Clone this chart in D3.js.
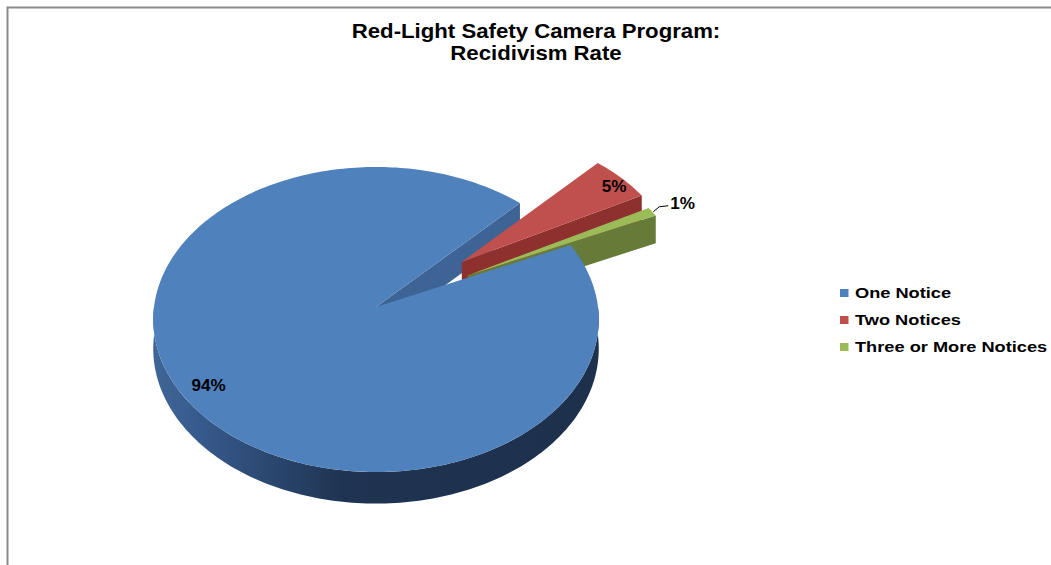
<!DOCTYPE html>
<html><head><meta charset="utf-8">
<script src="https://cdn.jsdelivr.net/npm/d3@7"></script>
<style>body{margin:0;background:#fff}svg{display:block}</style>
</head><body><svg id="c" width="1051" height="565"></svg>
<script>
const titleLines = ["Red-Light Safety Camera Program:", "Recidivism Rate"];
const categories = ["One Notice", "Two Notices", "Three or More Notices"];
const values = [94, 5, 1];
const explode = [0, 0.5, 0.47];
const topColors = ["#4F81BD", "#C0504D", "#9BBB59"];
const sideColors = ["#3D6494", "#8E302E", "#657B37"];

const svg = d3.select("#c");
const FONT = "Liberation Sans, Arial, sans-serif";

// frame
svg.append("path").attr("d", "M7.5,565 V7.5 H1051").attr("fill", "none")
  .attr("stroke", "#8a8a8a").attr("stroke-width", 2);

// title
svg.selectAll("text.title").data(titleLines).join("text")
  .attr("class", "title")
  .attr("transform", (d, i) => `translate(536,${38 + i * 22}) scale(1.11,1)`)
  .attr("text-anchor", "middle")
  .attr("font-family", FONT).attr("font-weight", "bold").attr("font-size", 20)
  .attr("fill", "#000").text(d => d);

// 3D projection
const cx = 376, cy = 307, R = 222, A = 151.5, k = 0.082, T = 29;
function proj(U, V, h) {
  const w = 1 - k * V;
  return [cx + R * U / w, cy + (A * V + T * h) / w];
}
const startA = 65 * Math.PI / 180;
const pie = d3.pie().sort(null).startAngle(startA).endAngle(startA + 2 * Math.PI);
const arcs = pie(values).map((a, i) => {
  const mid = (a.startAngle + a.endAngle) / 2;
  return Object.assign(a, {
    i, mid,
    ox: explode[i] * Math.sin(mid),
    oy: -explode[i] * Math.cos(mid)
  });
});
const line = d3.line();
const rimPts = (a, t0, t1, h) => {
  const n = Math.max(2, Math.ceil(Math.abs(t1 - t0) / 0.02));
  return d3.range(n + 1).map(j => {
    const t = t0 + (t1 - t0) * j / n;
    return proj(a.ox + Math.sin(t), a.oy - Math.cos(t), h);
  });
};
const topPath = a => line([proj(a.ox, a.oy, 0), ...rimPts(a, a.startAngle, a.endAngle, 0)]) + "Z";
const radialPath = (a, t) => line([
  proj(a.ox, a.oy, 0), proj(a.ox + Math.sin(t), a.oy - Math.cos(t), 0),
  proj(a.ox + Math.sin(t), a.oy - Math.cos(t), 1), proj(a.ox, a.oy, 1)]) + "Z";

const defs = svg.append("defs");
const g0 = defs.append("linearGradient").attr("id", "blueSide")
  .attr("gradientUnits", "userSpaceOnUse").attr("x1", 154).attr("x2", 598).attr("y1", 0).attr("y2", 0);
[[0, "#3F6696"], [0.12, "#35588A"], [0.42, "#1F3452"], [1, "#1D304C"]]
  .forEach(s => g0.append("stop").attr("offset", s[0]).attr("stop-color", s[1]));

const G = svg.append("g");
const blue = arcs[0], red = arcs[1], green = arcs[2];

// blue back radial face (end edge faces viewer)
G.append("path").attr("d", radialPath(blue, blue.endAngle)).attr("fill", "#3D6494");
// blue front curved side
const s0 = Math.PI / 2, s1 = 3 * Math.PI / 2;
G.append("path").attr("d",
  line([...rimPts(blue, s0, s1, 0), ...rimPts(blue, s1, s0, 1)]) + "Z")
  .attr("fill", "url(#blueSide)");

// red slice
G.append("path").attr("d", radialPath(red, red.endAngle)).attr("fill", sideColors[1]);
G.append("path").attr("d", topPath(red)).attr("fill", topColors[1]);
// green slice
G.append("path").attr("d", radialPath(green, green.endAngle)).attr("fill", sideColors[2]);
G.append("path").attr("d", topPath(green)).attr("fill", topColors[2]);
// blue top
G.append("path").attr("d", topPath(blue)).attr("fill", topColors[0]);

// data labels
const pct = d => d3.format(".0%")(d / 100);
const lab = (a, r) => proj(a.ox + r * Math.sin(a.mid), a.oy - r * Math.cos(a.mid), 0);
const p94 = lab(blue, 0.9);
const p5 = lab(red, 0.9);
const labelStyle = s => s.attr("font-family", FONT).attr("font-weight", "bold")
  .attr("font-size", 16).attr("fill", "#000");
G.append("text").attr("transform", `translate(${p94[0] + 2},${p94[1] + 1}) scale(1.07,1)`)
  .attr("text-anchor", "middle").call(labelStyle).text(pct(values[0]));
G.append("text").attr("transform", `translate(${p5[0] + 8},${p5[1] + 6}) scale(1.07,1)`)
  .attr("text-anchor", "middle").call(labelStyle).text(pct(values[1]));
const pg = lab(green, 1.0);
G.append("path").attr("d", line([[pg[0] + 1, pg[1]], [pg[0] + 7, pg[1] - 5], [pg[0] + 16, pg[1] - 6]]))
  .attr("fill", "none").attr("stroke", "#000").attr("stroke-width", 1);
G.append("text").attr("transform", `translate(${pg[0] + 18},${pg[1] - 3}) scale(1.07,1)`)
  .attr("text-anchor", "start").call(labelStyle).text(pct(values[2]));

// legend
const leg = svg.append("g").attr("transform", "translate(840,289)");
const li = leg.selectAll("g").data(categories).join("g")
  .attr("transform", (d, i) => `translate(0,${i * 27})`);
li.append("rect").attr("width", 8.5).attr("height", 8).attr("fill", (d, i) => topColors[i]);
li.append("text").attr("transform", "translate(15,8.5) scale(1.175,1)")
  .attr("font-family", FONT).attr("font-weight", "bold").attr("font-size", 15.5)
  .attr("fill", "#000").text(d => d);
</script></body></html>
